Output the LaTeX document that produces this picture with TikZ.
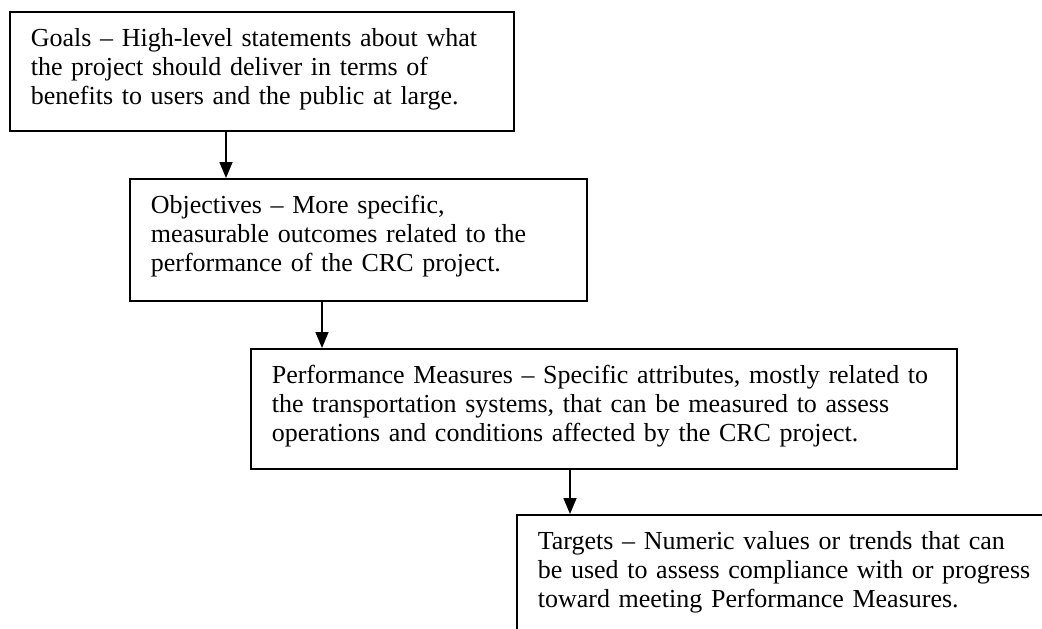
\documentclass[tikz,border=0pt]{standalone}
\usepackage{fontspec}
\setmainfont{Liberation Serif}
\usetikzlibrary{arrows.meta}
\begin{document}
\begin{tikzpicture}[x=1pt,y=-1pt,
  box/.style={draw, line width=1.6pt, anchor=north west, align=left,
    inner xsep=21pt, inner ysep=0pt, text height=35pt,
    font=\fontsize{26}{29}\selectfont},
  arr/.style={line width=1.6pt, -{Triangle[length=16pt,width=13pt]}}]
\useasboundingbox (0,0) rectangle (1042,629);
\clip (0,0) rectangle (1042,629);
\node[box, text width=462pt, text depth=84pt] (goals) at (9,11)
  {Goals – High-level statements about what\\the project should deliver in terms of\\benefits to users and the public at large.};
\node[box, text width=415pt, text depth=87pt] (obj) at (129,178)
  {Objectives – More specific,\\measurable outcomes related to the\\performance of the CRC project.};
\node[box, text width=664pt, text depth=85pt] (pm) at (250,348)
  {Performance Measures – Specific attributes, mostly related to\\the transportation systems, that can be measured to assess\\operations and conditions affected by the CRC project.};
\node[box, text width=640pt, text depth=200pt] (tg) at (516,514)
  {Targets – Numeric values or trends that can\\be used to assess compliance with or progress\\toward meeting Performance Measures.};
\path (goals.south west) ++(217,0) coordinate (g1);
\path (obj.south west) ++(193,0) coordinate (o1);
\path (pm.south west) ++(320,0) coordinate (p1);
\draw[arr] (g1) -- (g1 |- obj.north);
\draw[arr] (o1) -- (o1 |- pm.north);
\draw[arr] (p1) -- (p1 |- tg.north);
\end{tikzpicture}
\end{document}
